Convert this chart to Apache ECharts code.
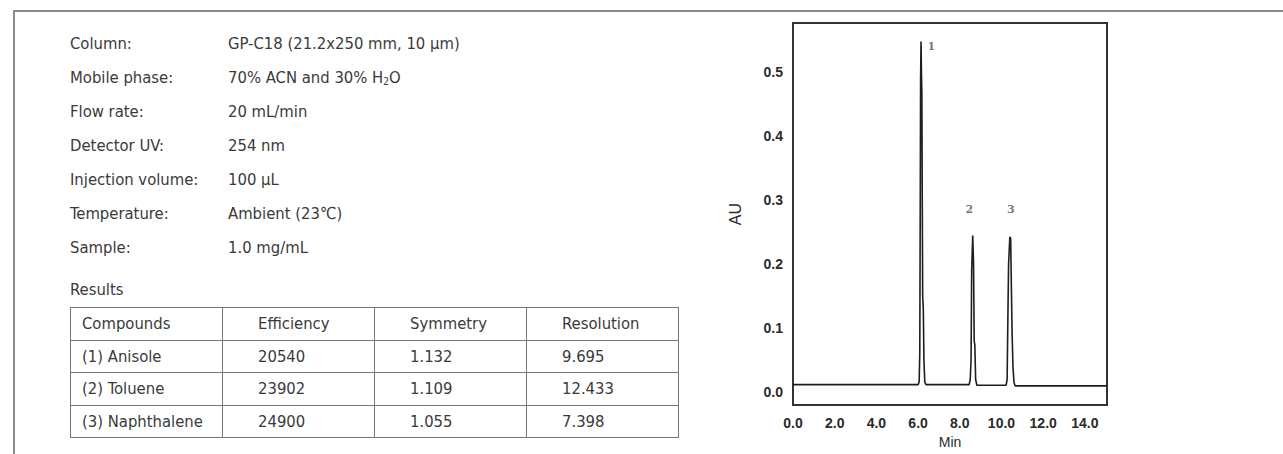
<!DOCTYPE html>
<html>
<head>
<meta charset="utf-8">
<title>GP-C18 chromatogram</title>
<script src="https://cdn.jsdelivr.net/npm/echarts@6/dist/echarts.min.js"></script>
<style>
    html, body { margin: 0; padding: 0; background: #fff; }
    #page {
        position: relative; width: 1283px; height: 454px; overflow: hidden;
        font-family: "Liberation Sans Narrow", "DejaVu Sans Condensed", Roboto, sans-serif;
        color: #3a3a3a;
    }
    #frame {
        position: absolute; left: 13px; top: 10px; right: -4px; bottom: -4px;
        border-top: 2px solid #8a8a8a; border-left: 2px solid #8a8a8a;
    }
    #info { position: absolute; left: 70px; top: 27px; font-size: 16.5px; }
    #info .row { height: 34px; line-height: 34px; white-space: nowrap; }
    #info .lab { display: inline-block; width: 158px; }
    #info sub { font-size: 10px; vertical-align: -2px; line-height: 0; }
    #results-title { position: absolute; left: 70px; top: 276px; font-size: 16.5px; line-height: 28px; }
    #results-table {
        position: absolute; left: 70px; top: 307px;
        border-collapse: collapse; font-size: 16.5px;
    }
    #results-table td {
        box-sizing: border-box; border: 1.5px solid #777;
        width: 152px; height: 32.5px; padding: 0 0 0 35px; white-space: nowrap;
    }
    #results-table td:first-child { padding-left: 11px; }
    #chart { position: absolute; left: 700px; top: 0; width: 583px; height: 454px; }
</style>
</head>
<body>
<div id="page">
    <div id="frame"></div>
    <div id="info"></div>
    <div id="results-title">Results</div>
    <table id="results-table"></table>
    <div id="chart"></div>
</div>
<script>
// 实验条件
const infoLabels = ['Column:', 'Mobile phase:', 'Flow rate:', 'Detector UV:', 'Injection volume:', 'Temperature:', 'Sample:'];
const infoValues = ['GP-C18 (21.2x250 mm, 10 μm)', '70% ACN and 30% H<sub>2</sub>O', '20 mL/min', '254 nm', '100 μL', 'Ambient (23℃)', '1.0 mg/mL'];

// 结果表
const tableHeader = ['Compounds', 'Efficiency', 'Symmetry', 'Resolution'];
const compounds = ['(1) Anisole', '(2) Toluene', '(3) Naphthalene'];
const efficiency = ['20540', '23902', '24900'];
const symmetry = ['1.132', '1.109', '1.055'];
const resolution = ['9.695', '12.433', '7.398'];

// 色谱图 (时间 min, 吸光度 AU)
const timeMin = [
    0, 6.0, 6.05, 6.08, 6.1, 6.12, 6.14, 6.16, 6.18, 6.2, 6.22, 6.25, 6.28, 6.32, 6.38,
    8.45, 8.5, 8.54, 8.57, 8.62, 8.66, 8.69, 8.72, 8.76, 8.82,
    10.22, 10.27, 10.3, 10.34, 10.4, 10.44, 10.48, 10.51, 10.55, 10.6, 10.66, 15.06
];
const absorbance = [
    0.012, 0.012, 0.016, 0.06, 0.26, 0.49, 0.548, 0.5, 0.47, 0.3, 0.15, 0.13, 0.05, 0.016, 0.012,
    0.012, 0.02, 0.05, 0.19, 0.245, 0.2, 0.08, 0.075, 0.02, 0.011,
    0.011, 0.02, 0.1, 0.2, 0.243, 0.24, 0.15, 0.09, 0.04, 0.015, 0.010, 0.010
];

// 峰标号
const peakNames = ['1', '2', '3'];
const peakLabelTime = [6.63, 8.46, 10.45];
const peakLabelAU = [0.54, 0.285, 0.285];

const xTicks = [0, 2, 4, 6, 8, 10, 12, 14];
const yTicks = [0, 0.1, 0.2, 0.3, 0.4, 0.5];

// 填充左侧文字
function buildInfo() {
    const box = document.getElementById('info');
    box.innerHTML = infoLabels.map((lab, i) =>
        `<div class="row"><span class="lab">${lab}</span>${infoValues[i]}</div>`
    ).join('');

    const rows = [tableHeader];
    compounds.forEach((c, i) => rows.push([c, efficiency[i], symmetry[i], resolution[i]]));
    document.getElementById('results-table').innerHTML = rows.map(r =>
        '<tr>' + r.map(v => `<td>${v}</td>`).join('') + '</tr>'
    ).join('');
}

// 绘制色谱图
function buildChart() {
    const chart = echarts.init(document.getElementById('chart'), null, { renderer: 'svg' });
    const axisFont = { fontFamily: 'Liberation Sans, Arial, sans-serif', fontWeight: 'bold', fontSize: 14, color: '#2a2a2a' };

    chart.setOption({
        animation: false,
        grid: {
            left: 93, top: 23, width: 314, height: 387,
            show: true, borderColor: '#333', borderWidth: 2
        },
        xAxis: {
            type: 'value', min: 0, max: 15.06,
            axisLine: { show: false }, axisTick: { show: false }, splitLine: { show: false },
            axisLabel: Object.assign({ customValues: xTicks, margin: 11, formatter: v => v.toFixed(1) }, axisFont),
            name: 'Min', nameLocation: 'middle', nameGap: 29,
            nameTextStyle: { fontFamily: 'Liberation Sans, Arial, sans-serif', fontSize: 14, color: '#2a2a2a' }
        },
        yAxis: {
            type: 'value', min: -0.02, max: 0.577,
            axisLine: { show: false }, axisTick: { show: false }, splitLine: { show: false },
            axisLabel: Object.assign({ customValues: yTicks, margin: 10, formatter: v => v.toFixed(1) }, axisFont),
            name: 'AU', nameLocation: 'middle', nameGap: 50,
            nameTextStyle: { fontFamily: 'Liberation Sans, Arial, sans-serif', fontSize: 16, color: '#2a2a2a' }
        },
        series: [{
            type: 'line',
            data: timeMin.map((t, i) => [t, absorbance[i]]),
            showSymbol: false,
            lineStyle: { color: '#1e1e1e', width: 1.6 }
        }, {
            type: 'scatter',
            data: peakNames.map((n, i) => ({ name: n, value: [peakLabelTime[i], peakLabelAU[i]] })),
            symbolSize: 1,
            itemStyle: { color: 'rgba(0,0,0,0)' },
            label: {
                show: true, position: 'inside', formatter: p => p.name,
                fontFamily: 'DejaVu Serif, serif', fontWeight: 'bold', fontSize: 11, color: '#555'
            }
        }]
    });
}

buildInfo();
buildChart();
</script>
</body>
</html>
